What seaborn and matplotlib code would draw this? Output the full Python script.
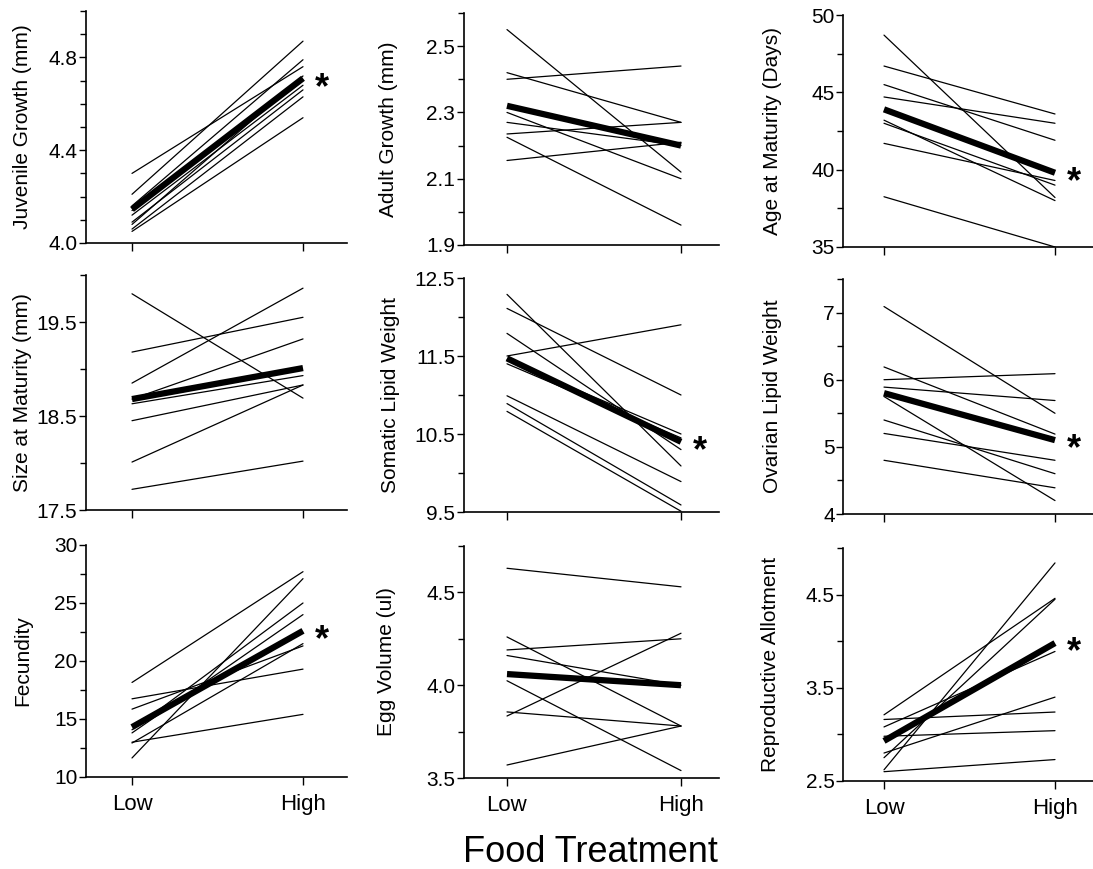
import numpy as np
import pandas as pd
import matplotlib
matplotlib.use("Agg")
import matplotlib.pyplot as plt
import seaborn as sns
from matplotlib.ticker import FixedLocator, MultipleLocator, FormatStrFormatter

# ---- data (Low food, High food) ----
juv_low = [4.30, 4.21, 4.16, 4.14, 4.09, 4.08, 4.06, 4.05, 4.12]
juv_high = [4.76, 4.87, 4.79, 4.70, 4.66, 4.72, 4.63, 4.54, 4.68]
juv_mean = [4.145, 4.71]

adu_low = [2.55, 2.42, 2.40, 2.30, 2.27, 2.235, 2.225, 2.155]
adu_high = [2.12, 2.27, 2.44, 2.10, 2.20, 2.27, 1.96, 2.21]
adu_mean = [2.32, 2.20]

age_low = [48.7, 46.7, 45.5, 44.7, 43.2, 43.0, 41.7, 38.25]
age_high = [38.2, 43.6, 41.9, 43.0, 38.0, 39.0, 39.3, 35.0]
age_mean = [43.9, 39.8]

siz_low = [19.80, 19.18, 18.85, 18.68, 18.63, 18.45, 18.01, 17.72]
siz_high = [18.69, 19.55, 19.86, 19.32, 18.93, 18.83, 18.83, 18.02]
siz_mean = [18.68, 19.01]

som_low = [12.29, 12.11, 11.79, 11.50, 11.45, 11.40, 10.99, 10.89, 10.79]
som_high = [10.09, 11.00, 10.30, 11.90, 10.50, 10.45, 9.89, 9.59, 9.51]
som_mean = [11.47, 10.40]

ova_low = [7.09, 6.19, 6.00, 5.89, 5.75, 5.40, 5.20, 4.80]
ova_high = [5.50, 5.19, 6.09, 5.69, 4.20, 4.60, 4.80, 4.39]
ova_mean = [5.80, 5.10]

fec_low = [18.15, 16.74, 15.85, 14.07, 13.8, 13.0, 12.93, 11.64]
fec_high = [27.7, 19.3, 21.3, 25.0, 24.0, 15.4, 21.5, 27.1]
fec_mean = [14.3, 22.6]

egg_low = [4.63, 4.26, 4.19, 4.16, 4.024, 3.856, 3.834, 3.57]
egg_high = [4.53, 3.78, 4.25, 4.00, 3.54, 3.78, 4.28, 3.78]
egg_mean = [4.06, 4.00]

rep_low = [3.21, 3.16, 3.08, 2.98, 2.80, 2.75, 2.62, 2.60]
rep_high = [4.46, 3.24, 3.89, 3.04, 3.40, 4.45, 4.84, 2.73]
rep_mean = [2.93, 3.98]

treatments = ["Low", "High"]

panels = [
    ("Juvenile Growth (mm)", juv_low, juv_high, juv_mean, True),
    ("Adult Growth (mm)", adu_low, adu_high, adu_mean, False),
    ("Age at Maturity (Days)", age_low, age_high, age_mean, True),
    ("Size at Maturity (mm)", siz_low, siz_high, siz_mean, False),
    ("Somatic Lipid Weight", som_low, som_high, som_mean, True),
    ("Ovarian Lipid Weight", ova_low, ova_high, ova_mean, True),
    ("Fecundity", fec_low, fec_high, fec_mean, True),
    ("Egg Volume (ul)", egg_low, egg_high, egg_mean, False),
    ("Reproductive Allotment", rep_low, rep_high, rep_mean, True),
]

# y axis settings: (ymin, ymax, labelled ticks, minor step, fmt)
yaxes = [
    (4.0, 5.0, [4.0, 4.4, 4.8], 0.1, "%.1f"),
    (1.9, 2.6, [1.9, 2.1, 2.3, 2.5], 0.1, "%.1f"),
    (35, 50, [35, 40, 45, 50], 2.5, "%d"),
    (17.5, 20.0, [17.5, 18.5, 19.5], 0.5, "%.1f"),
    (9.5, 12.5, [9.5, 10.5, 11.5, 12.5], 0.5, "%.1f"),
    (4, 7.5, [4, 5, 6, 7], 0.5, "%d"),
    (10, 30, [10, 15, 20, 25, 30], 2.5, "%d"),
    (3.5, 4.75, [3.5, 4.0, 4.5], 0.25, "%.1f"),
    (2.5, 5.0, [2.5, 3.5, 4.5], 0.5, "%.1f"),
]

# layout in pixels
W, H = 1093, 869
low_px = [132, 507, 884]
high_px = [303, 681, 1055]
xlims = [(-0.27, 1.26), (-0.25, 1.22), (-0.24, 1.22)]
rows_px = [
    [(11, 243), (13, 245), (15, 247)],
    [(275, 510), (278, 512), (279, 514)],
    [(545, 777), (546, 778), (548, 781)],
]
label_x_px = [23, 388, 773, 23, 390, 772, 23, 387, 770]

sns.set_style("ticks")
plt.rcParams["font.family"] = ["Liberation Sans", "DejaVu Sans"]
plt.rcParams.update({"text.color": "black", "axes.labelcolor": "black",
                     "xtick.color": "black", "ytick.color": "black",
                     "axes.edgecolor": "black"})

fig = plt.figure(figsize=(W / 100, H / 100), dpi=100)

for i, (label, low, high, mean, star) in enumerate(panels):
    r, c = divmod(i, 3)
    unit = high_px[c] - low_px[c]
    xl, xr = xlims[c]
    left = low_px[c] + xl * unit
    width = (xr - xl) * unit
    top, bottom = rows_px[r][c]
    ax = fig.add_axes([left / W, 1 - bottom / H, width / W, (bottom - top) / H])

    n = len(low)
    df = pd.DataFrame({
        "food": [0] * n + [1] * n,
        "value": list(low) + list(high),
        "unit": list(range(n)) * 2,
    })
    sns.lineplot(data=df, x="food", y="value", units="unit", estimator=None,
                 color="black", lw=0.9, ax=ax)
    mdf = pd.DataFrame({"food": [0, 1], "value": mean})
    sns.lineplot(data=mdf, x="food", y="value", color="black", lw=4.5,
                 solid_capstyle="butt", ax=ax)

    ymin, ymax, majors, minor, fmt = yaxes[i]
    ax.set_xlim(xl, xr)
    ax.set_ylim(ymin, ymax)
    ax.yaxis.set_major_locator(FixedLocator(majors))
    ax.yaxis.set_minor_locator(MultipleLocator(minor))
    ax.yaxis.set_major_formatter(FormatStrFormatter(fmt))
    ax.set_xticks([0, 1])
    ax.set_xticklabels(treatments)
    ax.tick_params(axis="y", which="major", direction="out", length=5, width=1,
                   pad=1, labelsize=15)
    ax.tick_params(axis="y", which="minor", direction="out", length=4, width=1)
    ax.tick_params(axis="x", direction="out", length=6, width=1, pad=6,
                   labelsize=16, labelbottom=(r == 2))
    ax.set_xlabel("")
    ax.set_ylabel(label, fontsize=15, va="center")
    ax.yaxis.set_label_coords((label_x_px[i] - left) / width, 0.5)
    sns.despine(ax=ax)
    for s in ("left", "bottom"):
        ax.spines[s].set_linewidth(1.2)
    ax.set_facecolor("white")

    if star:
        ax.annotate("*", xy=(1.11, mean[1]), xytext=(0, -14),
                    textcoords="offset points", ha="center", va="baseline",
                    fontsize=26, fontweight="bold", annotation_clip=False)

fig.text(590 / W, 1 - 853 / H, "Food Treatment", ha="center", va="center",
         fontsize=26)

fig.savefig("out.png", dpi=100, facecolor="white")
